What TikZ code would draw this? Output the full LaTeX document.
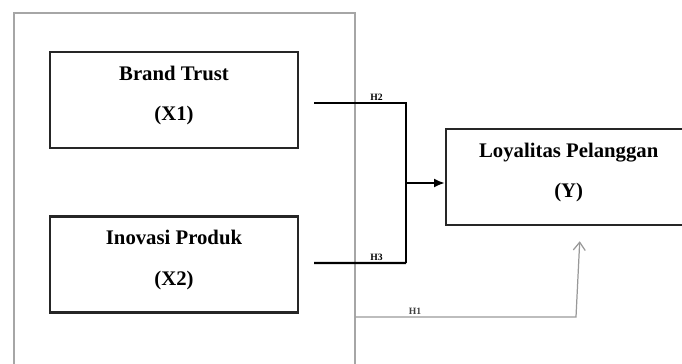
\documentclass[tikz,border=0pt]{standalone}
\usepackage{xcolor}
\usepackage{fontspec}
\setmainfont{Liberation Serif}
\usetikzlibrary{positioning,arrows.meta}

\begin{document}
\begin{tikzpicture}[
  varbox/.style={rectangle, draw=black!85, line width=1.4pt, align=center, font=\bfseries\fontsize{11.8}{23}\selectfont, text depth=7.5pt, minimum width=4.96cm, minimum height=1.92cm},
  framebox/.style={rectangle, draw=black!35, line width=0.6pt, minimum width=6.82cm, minimum height=7.1cm},
  arrow/.style={-{Latex[length=2.2mm,width=1.8mm]}, line width=1.2pt},
  link/.style={line width=1.2pt},
  weak/.style={draw=black!40, line width=0.7pt},
  hlabel/.style={font=\bfseries\fontsize{5.5}{6}\selectfont, inner sep=1pt}
]
  \useasboundingbox (0,0) rectangle (13.64,7.26);

  % Main components
  \node[framebox] (frame) at (3.69,3.45) {};
  \node[varbox] (brand) at (3.48,5.26) {Brand Trust\\(X1)};
  \node[varbox] (inovasi) at (3.48,1.97) {Inovasi Produk\\(X2)};
  \node[varbox, minimum width=4.9cm, anchor=west] (loyal) at (8.9,3.72) {Loyalitas Pelanggan\\(Y)};

  % Connections
  \coordinate (join) at (8.12,3.6);
  \draw[link] ([xshift=0.3cm,yshift=-0.06cm]brand.east) -- node[hlabel, above, pos=0.68] {H2} (join |- 0,5.2) -- (join |- 0,2.0);
  \draw[link] ([xshift=0.3cm,yshift=0.03cm]inovasi.east) -- node[hlabel, above, pos=0.68] {H3} (join |- 0,2.0);
  \draw[arrow] (join) -- (loyal.west |- join);
  \draw[weak, -{Straight Barb[length=1.6mm,width=2.4mm]}] (frame.east |- 0,0.92) -- node[hlabel, above, pos=0.27, text=black!75] {H1} (11.52,0.92) -- ([xshift=0.22cm,yshift=-0.3cm]loyal.south);
\end{tikzpicture}
\end{document}
